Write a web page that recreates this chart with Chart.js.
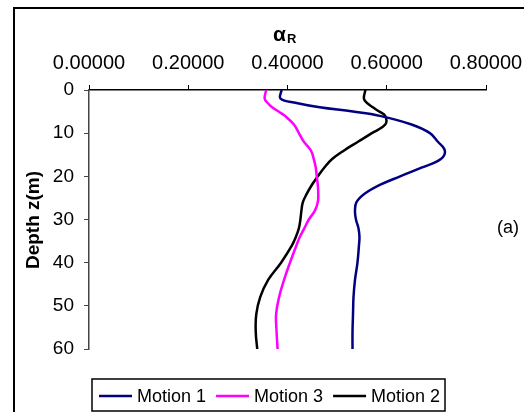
<!DOCTYPE html>
<html>
<head>
<meta charset="utf-8">
<script src="https://cdn.jsdelivr.net/npm/chart.js@4"></script>
<style>
  html, body { margin: 0; padding: 0; background: #fff; }
  #wrap { width: 524px; height: 412px; }
</style>
</head>
<body>
<div id="wrap"><canvas id="chart1"></canvas></div>
<script>
// depth below surface (m) and alpha_R values for each motion
var depths = [0, 2, 3, 4, 5, 6, 8, 10, 12, 14, 16, 18, 20, 22, 24, 26, 28, 30, 32, 34, 36, 40, 44, 48, 52, 56, 60];
var motion1 = [0.388, 0.386, 0.418, 0.465, 0.532, 0.586, 0.650, 0.687, 0.703, 0.717, 0.709, 0.670, 0.627, 0.586, 0.556, 0.539, 0.536, 0.538, 0.543, 0.545, 0.544, 0.541, 0.536, 0.533, 0.532, 0.531, 0.531];
var motion3 = [0.357, 0.354, 0.360, 0.369, 0.382, 0.395, 0.413, 0.423, 0.433, 0.447, 0.453, 0.457, 0.459, 0.461, 0.462, 0.461, 0.455, 0.443, 0.434, 0.425, 0.418, 0.405, 0.393, 0.383, 0.377, 0.378, 0.380];
var motion2 = [0.557, 0.554, 0.560, 0.572, 0.585, 0.597, 0.597, 0.570, 0.542, 0.514, 0.490, 0.474, 0.461, 0.449, 0.439, 0.431, 0.428, 0.426, 0.423, 0.417, 0.409, 0.387, 0.361, 0.345, 0.337, 0.336, 0.339];
var xTicks = [0, 0.2, 0.4, 0.6, 0.8];

function toPoints(vals) {
  return vals.map(function (v, i) { return { x: v, y: depths[i] }; });
}

var FONT = 'Liberation Sans, Arial, sans-serif';

var extras = {
  id: 'extras',
  afterDraw: function (chart) {
    var ctx = chart.ctx;
    ctx.save();
    // outer frame (only top and left are inside the canvas)
    ctx.strokeStyle = '#000';
    ctx.lineWidth = 2;
    ctx.beginPath();
    ctx.moveTo(14, 420);
    ctx.lineTo(14, 8);
    ctx.lineTo(530, 8);
    ctx.stroke();

    // axis title alpha_R
    ctx.fillStyle = '#000';
    ctx.textBaseline = 'alphabetic';
    ctx.textAlign = 'left';
    ctx.font = 'bold 21px ' + FONT;
    ctx.fillText('\u03b1', 273, 41);
    var aw = ctx.measureText('\u03b1').width;
    ctx.font = 'bold 13px ' + FONT;
    ctx.fillText('R', 273 + aw + 1, 43);

    // depth label
    ctx.save();
    ctx.translate(39, 220);
    ctx.rotate(-Math.PI / 2);
    ctx.textAlign = 'center';
    ctx.font = 'bold 19px ' + FONT;
    ctx.fillText('Depth z(m)', 0, 0);
    ctx.restore();

    // panel tag
    ctx.font = '18px ' + FONT;
    ctx.textAlign = 'left';
    ctx.textBaseline = 'middle';
    ctx.fillText('(a)', 497, 228);

    // legend
    ctx.lineWidth = 1.5;
    ctx.strokeRect(92, 379, 353, 32);
    ctx.font = '18px ' + FONT;
    var x = 99, y = 396;
    chart.data.datasets.forEach(function (ds) {
      ctx.strokeStyle = ds.borderColor;
      ctx.lineWidth = 2.5;
      ctx.beginPath();
      ctx.moveTo(x, y);
      ctx.lineTo(x + 33, y);
      ctx.stroke();
      ctx.fillStyle = '#000';
      ctx.fillText(ds.label, x + 38, y + 1);
      x += 38 + ctx.measureText(ds.label).width + 10;
    });
    ctx.restore();
  }
};

var ctx = document.getElementById('chart1').getContext('2d');
new Chart(ctx, {
  type: 'scatter',
  data: {
    datasets: [{
      label: 'Motion 1',
      data: toPoints(motion1),
      borderColor: '#000080'
    }, {
      label: 'Motion 3',
      data: toPoints(motion3),
      borderColor: '#ff00ff'
    }, {
      label: 'Motion 2',
      data: toPoints(motion2),
      borderColor: '#000000'
    }]
  },
  options: {
    responsive: true,
    maintainAspectRatio: false,
    animation: false,
    datasets: {
      scatter: {
        showLine: true,
        borderWidth: 2.5,
        pointRadius: 0,
        tension: 0.4,
        fill: false
      }
    },
    layout: { padding: { left: 0, top: 0, right: 38, bottom: 63 } },
    plugins: {
      legend: { display: false },
      tooltip: { enabled: false }
    },
    scales: {
      x: {
        type: 'linear',
        position: 'top',
        min: 0,
        max: 0.8,
        afterBuildTicks: function (scale) {
          scale.ticks = xTicks.map(function (v) { return { value: v }; });
        },
        afterFit: function (scale) {
          scale.height = 90;
          scale.paddingLeft = 0;
          scale.paddingRight = 0;
        },
        grid: { drawOnChartArea: false, drawTicks: true, tickLength: 5, color: '#000' },
        border: { display: true, color: '#000', width: 1.5 },
        ticks: {
          color: '#000',
          padding: 10,
          maxRotation: 0,
          font: { family: FONT, size: 20 },
          callback: function (v) { return Number(v).toFixed(5); }
        }
      },
      y: {
        type: 'linear',
        reverse: true,
        min: 0,
        max: 60,
        afterFit: function (scale) {
          scale.width = 89;
          scale.paddingTop = 0;
          scale.paddingBottom = 0;
        },
        grid: { drawOnChartArea: false, drawTicks: true, tickLength: 5, color: '#444' },
        border: { display: true, color: '#444', width: 1.5 },
        ticks: {
          stepSize: 10,
          color: '#000',
          padding: 10,
          font: { family: FONT, size: 19 }
        }
      }
    }
  },
  plugins: [extras]
});
</script>
</body>
</html>
